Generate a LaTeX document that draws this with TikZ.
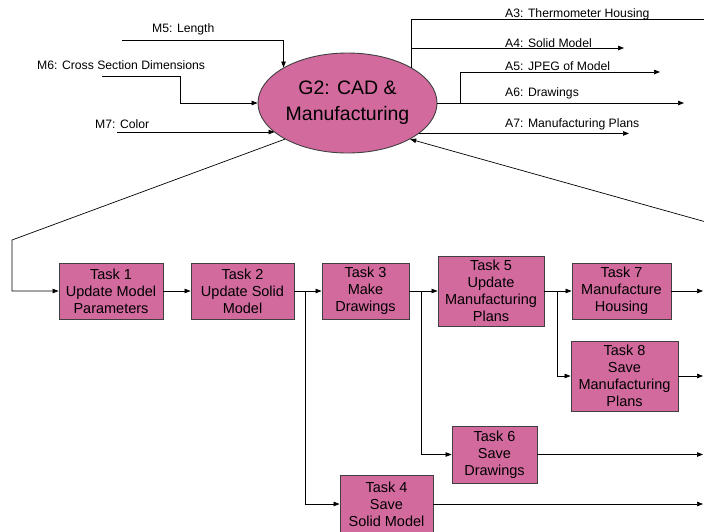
\documentclass[tikz,border=0pt]{standalone}
\usepackage{fontspec}
\setmainfont{Liberation Sans}
\usetikzlibrary{arrows.meta,positioning,calc,shapes.geometric}

\definecolor{taskpink}{RGB}{210,106,158}

\tikzset{
  taskbox/.style={draw=black!75, fill=taskpink, line width=0.9pt, align=center,
    inner sep=0pt, font=\fontsize{14.5}{17}\selectfont},
  goal/.style={ellipse, draw=black!75, fill=taskpink, line width=0.9pt, align=center,
    inner sep=0pt, minimum width=179pt, minimum height=100pt, font=\fontsize{19.5}{26}\selectfont},
  tag/.style={anchor=west, inner sep=0pt, font=\fontsize{12.2}{14}\selectfont},
  flow/.style={-{Triangle[length=6pt,width=4.5pt]}, line width=0.7pt},
}

\begin{document}
\begin{tikzpicture}[x=1pt, y=-1pt]
  \useasboundingbox (0,0) rectangle (704,531);

  % goal
  \node[goal] (g2) at (347.5,103) {G2: CAD \&\\Manufacturing};

  % tasks
  \node[taskbox, minimum width=104pt, minimum height=56pt] (t1) at (111,291)   {Task 1\\Update Model\\Parameters};
  \node[taskbox, minimum width=103pt, minimum height=56pt] (t2) at (242.5,291) {Task 2\\Update Solid\\Model};
  \node[taskbox, minimum width=87pt,  minimum height=56pt] (t3) at (365.5,291) {Task 3\\Make\\Drawings};
  \node[taskbox, minimum width=106pt, minimum height=70pt] (t5) at (491,291)   {Task 5\\Update\\Manufacturing\\Plans};
  \node[taskbox, minimum width=99pt,  minimum height=56pt] (t7) at (621.5,291) {Task 7\\Manufacture\\Housing};
  \node[taskbox, minimum width=107pt, minimum height=70pt] (t8) at (624.5,376) {Task 8\\Save\\Manufacturing\\Plans};
  \node[taskbox, minimum width=85pt,  minimum height=57pt] (t6) at (494.5,454.5) {Task 6\\Save\\Drawings};
  \node[taskbox, minimum width=93pt,  minimum height=58pt] (t4) at (386.5,504) {Task 4\\Save\\Solid Model};

  % inputs
  \node[tag] (l5) at (152,29)  {M5: Length};
  \node[tag] (l6) at (37,65)   {M6: Cross Section Dimensions};
  \node[tag] (l7) at (95,124)  {M7: Color};
  \coordinate (m5) at (122,40);
  \coordinate (m6) at (102,76);
  \coordinate (m6bend) at (180,76);
  \coordinate (m7) at (117,132);
  \draw[flow] (m5) -| (g2.151);
  \draw[flow] (m6) -- (m6bend) |- (g2.west);
  \draw[flow] (m7) -- (m7 -| g2.202);

  % outputs
  \node[tag] (l3) at (505,14)  {A3: Thermometer Housing};
  \node[tag] (l4) at (505,43)  {A4: Solid Model};
  \node[tag] (la5) at (505,66) {A5: JPEG of Model};
  \node[tag] (la6) at (505,93) {A6: Drawings};
  \node[tag] (la7) at (505,124) {A7: Manufacturing Plans};
  \coordinate (a3end) at (706,19);
  \coordinate (a4end) at (624,48);
  \coordinate (a5bend) at (460,103);
  \coordinate (a5end) at (660,72);
  \coordinate (a6end) at (684,103);
  \coordinate (a7end) at (629,133);
  \draw (g2.29) |- (a3end);
  \draw[flow] (g2.29 |- a4end) -- (a4end);
  \draw[flow] (g2.east) -- (a6end);
  \draw[flow] (a5bend) |- (a5end);
  \draw[flow] (g2.337) -- (g2.337 -| a7end);

  % feedback
  \coordinate (fbl) at (12,240);
  \coordinate (fbr) at (706,222);
  \draw[flow] (g2.210) -- (fbl) |- (t1);
  \draw[flow] (fbr) -- (g2.330);

  % task flow
  \draw[flow] (t1) -- (t2);
  \draw[flow] (t2) -- (t3);
  \draw[flow] (t3) -- (t5);
  \draw[flow] (t5) -- (t7);
  \coordinate (b4) at (305,291);
  \coordinate (b6) at (421,291);
  \coordinate (b8) at (557,291);
  \draw[flow] (b4) |- (t4);
  \draw[flow] (b6) |- (t6);
  \draw[flow] (b8) |- (t8);

  % to the right edge
  \coordinate (out) at (703,0);
  \draw[flow] (t7) -- (t7 -| out);
  \draw[flow] (t8) -- (t8 -| out);
  \draw[flow] (t6) -- (t6 -| out);
  \draw[flow] (t4) -- (t4 -| out);
\end{tikzpicture}
\end{document}
